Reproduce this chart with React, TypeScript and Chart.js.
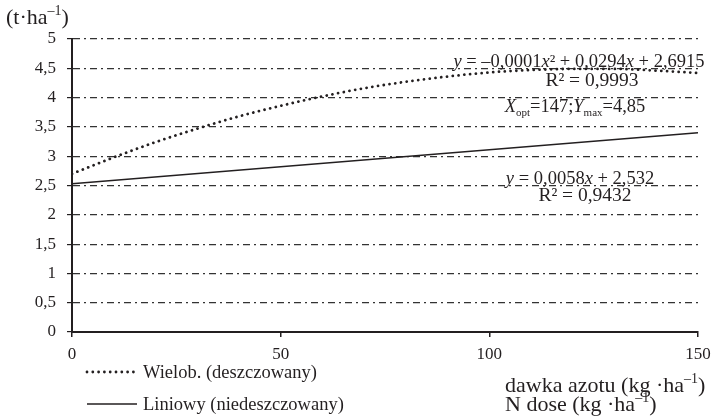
import React, { useEffect, useRef } from "react";
import { Chart, registerables } from "chart.js";

Chart.register(...registerables);

// Nitrogen dose (kg·ha⁻¹) and yields (t·ha⁻¹)
const doses = [0, 10, 20, 30, 40, 50, 60, 70, 80, 90, 100, 110, 120, 130, 140, 150];
const irrigatedYield = [2.7, 2.98, 3.24, 3.47, 3.68, 3.86, 4.02, 4.16, 4.27, 4.36, 4.43, 4.47, 4.49, 4.49, 4.46, 4.42];
const linearDoses = [0, 150];
const nonIrrigatedYield = [2.53, 3.4];

const xTicks = [0, 50, 100, 150];
const yTicks = [0, 0.5, 1, 1.5, 2, 2.5, 3, 3.5, 4, 4.5, 5];

const seriesLabels = ["Wielob. (deszczowany)", "Liniowy (niedeszczowany)"];

const FONT = '"Liberation Serif", "Times New Roman", serif';
const INK = "#231f20";
const DOTS = [0.001, 5.8];

type Seg = { t: string; it?: boolean; sup?: boolean; sub?: boolean };

function drawRich(
  ctx: CanvasRenderingContext2D,
  segs: Seg[],
  x: number,
  y: number,
  size: number,
  align: "left" | "center" | "right"
) {
  const fontFor = (s: Seg) =>
    `${s.it ? "italic " : ""}${s.sup || s.sub ? Math.round(size * 0.62) : size}px ${FONT}`;
  const widths = segs.map((s) => {
    ctx.font = fontFor(s);
    return ctx.measureText(s.t).width;
  });
  const total = widths.reduce((a, b) => a + b, 0);
  let cx = align === "left" ? x : align === "center" ? x - total / 2 : x - total;
  ctx.textAlign = "left";
  ctx.textBaseline = "alphabetic";
  segs.forEach((s, i) => {
    ctx.font = fontFor(s);
    const dy = s.sup ? -size * 0.4 : s.sub ? size * 0.22 : 0;
    ctx.fillText(s.t, cx, y + dy);
    cx += widths[i];
  });
}

const fmt = (v: number) => String(v).replace(".", ",");

const annotations = {
  id: "annotations",
  afterDraw(chart: Chart) {
    const ctx = chart.ctx;
    ctx.save();
    ctx.fillStyle = INK;

    // unit of the y axis
    drawRich(ctx, [{ t: "(t·ha" }, { t: "–1", sup: true }, { t: ")" }], 6, 24, 22, "left");

    // fitted equations
    drawRich(
      ctx,
      [
        { t: "y", it: true },
        { t: " = –0,0001" },
        { t: "x", it: true },
        { t: "² + 0,0294" },
        { t: "x", it: true },
        { t: " + 2,6915" },
      ],
      579,
      67,
      18.5,
      "center"
    );
    drawRich(ctx, [{ t: "R² = 0,9993" }], 592, 86, 19.5, "center");
    drawRich(
      ctx,
      [
        { t: "X", it: true },
        { t: "opt", sub: true },
        { t: "=147;" },
        { t: "Y", it: true },
        { t: "max", sub: true },
        { t: "=4,85" },
      ],
      575,
      112,
      18.5,
      "center"
    );
    drawRich(
      ctx,
      [{ t: "y", it: true }, { t: " = 0,0058" }, { t: "x", it: true }, { t: " + 2,532" }],
      580,
      184,
      18.5,
      "center"
    );
    drawRich(ctx, [{ t: "R² = 0,9432" }], 585, 201, 19.5, "center");

    // x axis titles
    drawRich(
      ctx,
      [{ t: "dawka azotu (kg ·ha" }, { t: "–1", sup: true }, { t: ")" }],
      505,
      392,
      22,
      "left"
    );
    drawRich(ctx, [{ t: "N dose (kg ·ha" }, { t: "–1", sup: true }, { t: ")" }], 505, 411, 22, "left");

    // legend
    ctx.strokeStyle = INK;
    ctx.lineCap = "round";
    ctx.lineWidth = 2.8;
    ctx.setLineDash(DOTS);
    ctx.beginPath();
    ctx.moveTo(87, 372);
    ctx.lineTo(134, 372);
    ctx.stroke();
    ctx.setLineDash([]);
    ctx.lineCap = "butt";
    ctx.lineWidth = 1.3;
    ctx.beginPath();
    ctx.moveTo(87, 404);
    ctx.lineTo(137, 404);
    ctx.stroke();
    drawRich(ctx, [{ t: seriesLabels[0] }], 143, 378, 18.5, "left");
    drawRich(ctx, [{ t: seriesLabels[1] }], 143, 410, 18.5, "left");

    ctx.restore();
  },
};

export default function App() {
  const ref = useRef<HTMLCanvasElement>(null);

  useEffect(() => {
    if (!ref.current) return;
    const chart = new Chart(ref.current, {
      type: "line",
      data: {
        datasets: [
          {
            label: seriesLabels[0],
            data: doses.map((d, i) => ({ x: d, y: irrigatedYield[i] })),
            borderColor: INK,
            borderWidth: 2.8,
            borderCapStyle: "round",
            borderDash: DOTS,
            pointRadius: 0,
            cubicInterpolationMode: "monotone",
            fill: false,
          },
          {
            label: seriesLabels[1],
            data: linearDoses.map((d, i) => ({ x: d, y: nonIrrigatedYield[i] })),
            borderColor: INK,
            borderWidth: 1.3,
            pointRadius: 0,
            fill: false,
          },
        ],
      },
      options: {
        animation: false,
        responsive: false,
        layout: { padding: { left: 0, top: 39, right: 13, bottom: 0 } },
        plugins: { legend: { display: false }, tooltip: { enabled: false } },
        scales: {
          x: {
            type: "linear",
            min: 0,
            max: 150,
            afterBuildTicks: (s: any) => {
              s.ticks = xTicks.map((v) => ({ value: v }));
            },
            afterFit: (s: any) => {
              s.height = 85;
              s.paddingLeft = 0;
              s.paddingRight = 0;
            },
            grid: {
              drawOnChartArea: false,
              drawTicks: true,
              tickLength: 5,
              color: INK,
              lineWidth: 1.5,
            },
            border: { display: true, color: INK, width: 2 },
            ticks: {
              autoSkip: false,
              maxRotation: 0,
              padding: 7,
              color: INK,
              font: { family: FONT, size: 17 },
              callback: (v: any) => fmt(Number(v)),
            },
          },
          y: {
            type: "linear",
            min: 0,
            max: 5,
            afterBuildTicks: (s: any) => {
              s.ticks = yTicks.map((v) => ({ value: v }));
            },
            afterFit: (s: any) => {
              s.width = 72;
              s.paddingTop = 0;
              s.paddingBottom = 0;
            },
            grid: {
              drawOnChartArea: true,
              drawTicks: true,
              tickLength: 5,
              color: "#333",
              lineWidth: 1.2,
              tickColor: INK,
            },
            border: { display: true, color: INK, width: 2, dash: [7, 4, 2, 4] },
            ticks: {
              autoSkip: false,
              padding: 11,
              color: INK,
              font: { family: FONT, size: 17 },
              callback: (v: any) => fmt(Number(v)),
            },
          },
        },
      },
      plugins: [annotations],
    });
    return () => chart.destroy();
  }, []);

  return (
    <div style={{ position: "absolute", left: 0, top: 0, width: 711, height: 417, background: "#fff" }}>
      <canvas ref={ref} width={711} height={417} style={{ display: "block" }} />
    </div>
  );
}
